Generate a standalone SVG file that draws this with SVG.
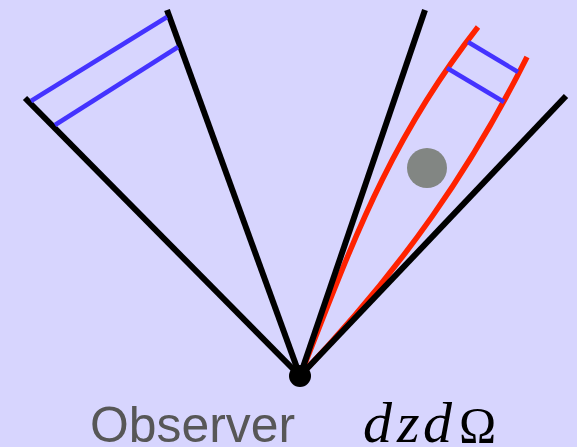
<svg xmlns="http://www.w3.org/2000/svg" width="577" height="447" viewBox="0 0 577 447">
<style>
.bg{fill:#d7d5fe}
.ray{stroke:#000;stroke-width:6;fill:none}
.shell{stroke:#4433ff;stroke-width:4.5;fill:none}
.red{stroke:#ff2200;stroke-width:5.5;fill:none}
.lbl{font-family:"Liberation Sans",Arial,sans-serif;font-size:50px;fill:#575757}
.math{font-family:"Liberation Serif","Times New Roman",serif;font-size:58px;fill:#000}
</style>
<rect class="bg" x="0" y="0" width="577" height="447"/>
<g id="connectors">
<path class="red" d="M300,376 C348,256 384,147 478,27"/>
<path class="red" d="M300,376 C404.5,266 472,167 527,57"/>
<line class="ray" x1="300" y1="376" x2="25" y2="98"/>
<line class="ray" x1="300" y1="376" x2="167" y2="10"/>
<line class="ray" x1="300" y1="376" x2="425" y2="10"/>
<line class="ray" x1="300" y1="376" x2="566" y2="96"/>
</g>
<g id="left-shells">
<line class="shell" x1="31" y1="101" x2="167" y2="17"/>
<line class="shell" x1="55" y1="125" x2="178" y2="47"/>
</g>
<g id="right-shells">
<line class="shell" x1="468" y1="42" x2="518" y2="72"/>
<line class="shell" x1="447" y1="68" x2="504" y2="102"/>
</g>
<g id="galaxy">
<circle cx="427" cy="168" r="20" fill="#828683"/>
</g>
<g id="observer">
<circle cx="300" cy="376" r="11" fill="#000"/>
<text class="lbl" x="90" y="442" textLength="205" lengthAdjust="spacingAndGlyphs">Observer</text>
</g>
<g id="volume-label">
<text class="math" y="442"><tspan x="363" font-style="italic">d</tspan><tspan x="397" font-style="italic">z</tspan><tspan x="423" font-style="italic">d</tspan><tspan x="459" font-size="50">Ω</tspan></text>
</g>
</svg>
